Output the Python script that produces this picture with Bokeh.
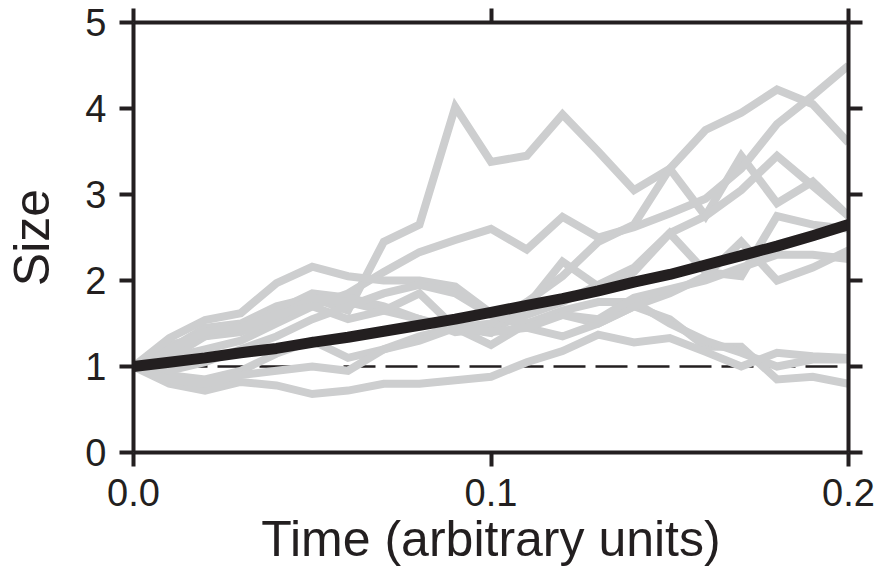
from bokeh.plotting import figure
from bokeh.models import Range1d, LinearAxis, FixedTicker, Span
from bokeh.embed import file_html
from bokeh.resources import INLINE

# ---- data ----
times = [i / 100 for i in range(21)]

walk_1 = [1.00, 1.20, 1.45, 1.50, 1.70, 1.80, 1.65, 2.45, 2.65, 4.02, 3.38, 3.45, 3.93, 3.50, 3.05, 3.30, 2.75, 3.45, 2.90, 3.15, 2.75]
walk_2 = [1.00, 1.10, 1.20, 1.30, 1.50, 1.70, 1.85, 2.10, 2.33, 2.47, 2.60, 2.36, 2.74, 2.50, 2.62, 2.78, 2.95, 3.30, 3.82, 4.15, 4.50]
walk_3 = [1.00, 1.25, 1.35, 1.45, 1.65, 1.85, 1.80, 1.70, 1.55, 1.45, 1.50, 1.75, 2.05, 2.45, 2.65, 3.30, 3.75, 3.95, 4.22, 4.05, 3.60]
walk_4 = [1.00, 1.10, 1.35, 1.40, 1.55, 1.80, 1.75, 1.65, 1.55, 1.40, 1.45, 1.60, 1.75, 1.95, 2.15, 2.55, 2.75, 3.05, 3.45, 3.10, 2.75]
walk_5 = [1.00, 1.20, 1.40, 1.45, 1.60, 1.70, 1.55, 1.65, 1.85, 1.45, 1.39, 1.70, 2.22, 1.93, 2.10, 2.55, 2.10, 2.05, 2.75, 2.65, 2.60]
walk_6 = [1.00, 0.90, 0.85, 0.95, 1.15, 1.30, 1.10, 1.20, 1.35, 1.45, 1.25, 1.50, 1.60, 1.50, 1.70, 1.85, 2.05, 2.45, 2.00, 2.15, 2.35]
walk_7 = [1.00, 1.33, 1.54, 1.62, 1.97, 2.16, 2.05, 2.00, 2.00, 1.93, 1.62, 1.45, 1.35, 1.50, 1.70, 1.55, 1.23, 1.23, 0.85, 0.88, 0.80]
walk_8 = [1.00, 0.95, 1.05, 1.20, 1.35, 1.55, 1.70, 1.85, 1.95, 1.85, 1.60, 1.50, 1.65, 1.75, 1.75, 1.50, 1.30, 1.16, 1.00, 1.08, 1.08]
walk_9 = [1.00, 0.80, 0.72, 0.82, 0.78, 0.68, 0.72, 0.80, 0.80, 0.84, 0.88, 1.05, 1.18, 1.37, 1.28, 1.33, 1.17, 1.00, 1.16, 1.12, 1.10]
walk_10 = [1.00, 0.85, 0.80, 0.90, 0.95, 1.00, 0.95, 1.20, 1.30, 1.45, 1.40, 1.45, 1.60, 1.55, 1.80, 1.90, 2.00, 2.15, 2.30, 2.30, 2.25]
walks = [walk_1, walk_2, walk_3, walk_4, walk_5, walk_6, walk_7, walk_8, walk_9, walk_10]

mean_size = [1.00, 1.05, 1.10, 1.16, 1.21, 1.28, 1.34, 1.41, 1.48, 1.55, 1.63,
             1.71, 1.79, 1.88, 1.98, 2.07, 2.18, 2.29, 2.40, 2.52, 2.65]
baseline = 1.0

x_ticks = [0.0, 0.1, 0.2]
y_ticks = [0, 1, 2, 3, 4, 5]
x_title = "Time (arbitrary units)"
y_title = "Size"

# ---- style ----
INK = "#231f20"
GREY = "#cdcecf"
FONT = "Liberation Sans"

p = figure(width=881, height=569, output_backend="svg", toolbar_location=None,
           x_range=Range1d(0, 0.2), y_range=Range1d(0, 5),
           x_axis_location=None, y_axis_location=None,
           min_border_left=133, min_border_right=33, min_border_top=22, min_border_bottom=117)
p.outline_line_color = None
p.grid.visible = False
p.background_fill_color = "white"
p.border_fill_color = "white"


def style_axis(ax, labels=True):
    ax.axis_line_color = INK
    ax.axis_line_width = 4
    ax.major_tick_line_color = INK
    ax.major_tick_line_width = 4
    ax.major_tick_in = 0
    ax.major_tick_out = 14
    ax.minor_tick_line_color = None
    ax.major_label_text_font = FONT
    ax.major_label_text_color = INK
    ax.major_label_text_line_height = 1.0
    if labels:
        ax.major_label_text_font_size = "38px"
    else:
        ax.major_label_text_font_size = "0px"
        ax.major_label_standoff = 0


def style_title(ax):
    ax.axis_label_text_font = FONT
    ax.axis_label_text_font_size = "50px"
    ax.axis_label_text_font_style = "normal"
    ax.axis_label_text_color = INK
    ax.axis_label_text_line_height = 1.0


xf = FixedTicker(ticks=x_ticks)
yf = FixedTicker(ticks=y_ticks)

bottom = LinearAxis(ticker=xf, axis_label=x_title)
style_axis(bottom)
style_title(bottom)
bottom.major_label_overrides = {0.0: "0.0", 0.1: "0.1", 0.2: "0.2"}
bottom.major_label_standoff = 12
bottom.axis_label_standoff = 2
p.add_layout(bottom, "below")

left = LinearAxis(ticker=yf, axis_label=y_title)
style_axis(left)
style_title(left)
left.major_label_standoff = 13
left.axis_label_standoff = 22
p.add_layout(left, "left")

top = LinearAxis(ticker=xf)
style_axis(top, labels=False)
p.add_layout(top, "above")

right = LinearAxis(ticker=yf)
style_axis(right, labels=False)
p.add_layout(right, "right")

p.add_layout(Span(location=baseline, dimension="width", line_color=INK,
                  line_width=2.5, line_dash="32 10", level="underlay"))

for w in walks:
    p.line(times, w, line_color=GREY, line_width=8, line_join="miter")

p.line(times, mean_size, line_color=INK, line_width=11, line_join="round")

open("out.html", "w").write(file_html(p, INLINE))
